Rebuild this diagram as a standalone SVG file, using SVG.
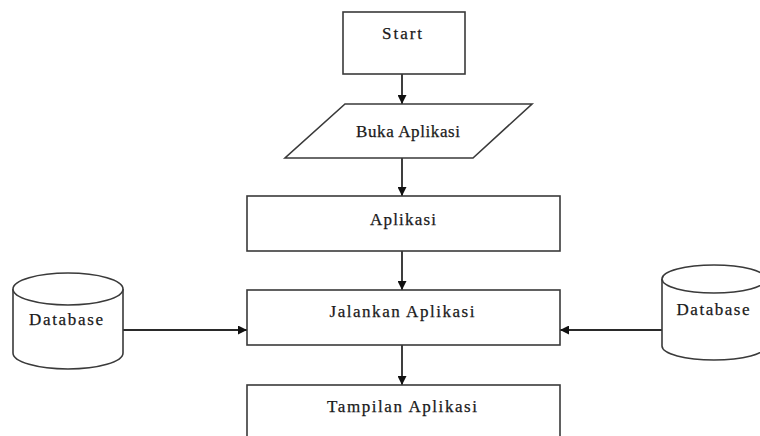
<svg xmlns="http://www.w3.org/2000/svg" width="760" height="436" viewBox="0 0 760 436">
<style>
.s{fill:#fff;stroke:#3a3a3a;stroke-width:1.6}
.t{font-family:"Liberation Serif","Times New Roman",serif;font-size:17px;fill:#1a1a1a;text-anchor:middle;stroke:#1a1a1a;stroke-width:0.25}
.c{stroke:#2a2a2a;stroke-width:1.8;fill:none}
</style>
<defs>
<marker id="ah" viewBox="0 0 10 10" refX="10" refY="5" markerWidth="5" markerHeight="5" orient="auto" markerUnits="strokeWidth">
<path d="M0,0 L10,5 L0,10 z" fill="#111"/>
</marker>
</defs>
<rect width="760" height="436" fill="#fff"/>
<g id="connectors">
<line class="c" x1="402" y1="74" x2="402" y2="104" marker-end="url(#ah)"/>
<line class="c" x1="402" y1="158" x2="402" y2="196" marker-end="url(#ah)"/>
<line class="c" x1="402" y1="251" x2="402" y2="290" marker-end="url(#ah)"/>
<line class="c" x1="402" y1="345" x2="402" y2="385" marker-end="url(#ah)"/>
<line class="c" x1="123" y1="330" x2="247" y2="330" marker-end="url(#ah)"/>
<line class="c" x1="662" y1="330" x2="560" y2="330" marker-end="url(#ah)"/>
</g>
<g id="start">
<rect class="s" x="343" y="12" width="122" height="62"/>
<text class="t" x="402" y="39" textLength="40">Start</text>
</g>
<g id="buka-aplikasi">
<polygon class="s" points="345,104 532,104 473,158 285,158"/>
<text class="t" x="408" y="137" textLength="104">Buka Aplikasi</text>
</g>
<g id="aplikasi">
<rect class="s" x="247" y="196" width="313" height="55"/>
<text class="t" x="403" y="225" textLength="66">Aplikasi</text>
</g>
<g id="jalankan-aplikasi">
<rect class="s" x="247" y="290" width="313" height="55"/>
<text class="t" x="402" y="317" textLength="145">Jalankan Aplikasi</text>
</g>
<g id="tampilan-aplikasi">
<rect class="s" x="247" y="385" width="313" height="60"/>
<text class="t" x="402" y="412" textLength="150">Tampilan Aplikasi</text>
</g>
<g id="database-left">
<path class="s" d="M13,289 L13,353 A55,16 0 0 0 123,353 L123,289 A55,16 0 0 0 13,289 Z"/>
<path class="s" d="M13,289 A55,16 0 0 0 123,289" fill="none"/>
<text class="t" x="66" y="325" textLength="74">Database</text>
</g>
<g id="database-right">
<path class="s" d="M662,279 L662,346 A52,14 0 0 0 766,346 L766,279 A52,14 0 0 0 662,279 Z"/>
<path class="s" d="M662,279 A52,14 0 0 0 766,279" fill="none"/>
<text class="t" x="713" y="315" textLength="73">Database</text>
</g>
</svg>
